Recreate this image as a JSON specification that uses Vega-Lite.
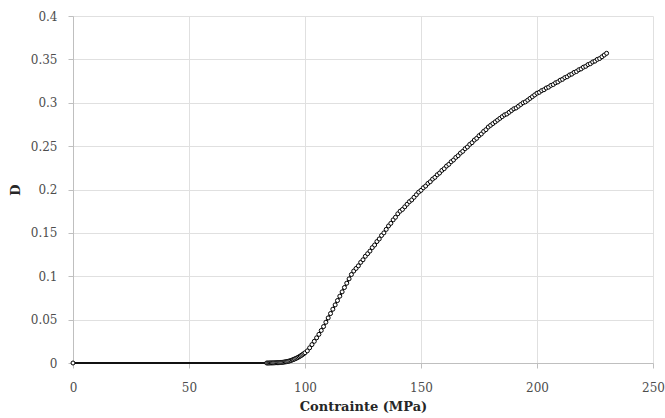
{
  "$schema": "https://vega.github.io/schema/vega-lite/v6.json",
  "autosize": {"type": "none"},
  "width": 580,
  "height": 347,
  "padding": {"left": 73, "top": 16, "right": 12, "bottom": 55},
  "background": "white",
  "config": {
    "view": {"stroke": null},
    "axis": {
      "labelFont": "DejaVu Serif",
      "labelFontSize": 12,
      "labelColor": "#4d4d4d",
      "titleFont": "DejaVu Serif",
      "titleFontSize": 13,
      "titleFontWeight": "bold",
      "titleColor": "#262626",
      "gridColor": "#e0e0e0",
      "gridWidth": 1,
      "domainColor": "#bfbfbf",
      "tickColor": "#bfbfbf",
      "tickSize": 5
    }
  },
  "data": {"values": [
    {"s": 0, "D": 0},
    {"s": 83.5, "D": 0}, {"s": 84, "D": 0}, {"s": 84.5, "D": 0}, {"s": 85, "D": 0.0001},
    {"s": 85.5, "D": 0.0001}, {"s": 86, "D": 0.0001}, {"s": 86.5, "D": 0.0002}, {"s": 87, "D": 0.0002},
    {"s": 87.5, "D": 0.0003}, {"s": 88, "D": 0.0003}, {"s": 88.5, "D": 0.0004}, {"s": 89, "D": 0.0005},
    {"s": 89.5, "D": 0.0006}, {"s": 90, "D": 0.0007}, {"s": 90.5, "D": 0.0009}, {"s": 91, "D": 0.0011},
    {"s": 91.5, "D": 0.0013}, {"s": 92, "D": 0.0015}, {"s": 92.5, "D": 0.0018}, {"s": 93, "D": 0.0021},
    {"s": 93.5, "D": 0.0025}, {"s": 94, "D": 0.003}, {"s": 94.5, "D": 0.0035}, {"s": 95, "D": 0.004},
    {"s": 95.5, "D": 0.0046}, {"s": 96, "D": 0.0052}, {"s": 96.5, "D": 0.0058}, {"s": 97, "D": 0.0065},
    {"s": 97.5, "D": 0.0073}, {"s": 98, "D": 0.0081}, {"s": 98.5, "D": 0.0089}, {"s": 99, "D": 0.0098},
    {"s": 99.5, "D": 0.0108}, {"s": 100, "D": 0.0118},
    {"s": 101, "D": 0.014}, {"s": 102, "D": 0.0175}, {"s": 103, "D": 0.0212}, {"s": 104, "D": 0.025},
    {"s": 105, "D": 0.029}, {"s": 106, "D": 0.033}, {"s": 107, "D": 0.0375}, {"s": 108, "D": 0.042},
    {"s": 109, "D": 0.047}, {"s": 110, "D": 0.052}, {"s": 111, "D": 0.057}, {"s": 112, "D": 0.062},
    {"s": 113, "D": 0.067}, {"s": 114, "D": 0.072}, {"s": 115, "D": 0.077}, {"s": 116, "D": 0.082},
    {"s": 117, "D": 0.087}, {"s": 118, "D": 0.092}, {"s": 119, "D": 0.097}, {"s": 120, "D": 0.102},
    {"s": 121, "D": 0.106}, {"s": 122, "D": 0.109}, {"s": 123, "D": 0.112}, {"s": 124, "D": 0.116},
    {"s": 125, "D": 0.119}, {"s": 126, "D": 0.123}, {"s": 127, "D": 0.126}, {"s": 128, "D": 0.129},
    {"s": 129, "D": 0.133}, {"s": 130, "D": 0.136}, {"s": 131, "D": 0.14}, {"s": 132, "D": 0.143},
    {"s": 133, "D": 0.147}, {"s": 134, "D": 0.15}, {"s": 135, "D": 0.154}, {"s": 136, "D": 0.158},
    {"s": 137, "D": 0.161}, {"s": 138, "D": 0.165}, {"s": 139, "D": 0.168}, {"s": 140, "D": 0.172},
    {"s": 141, "D": 0.175}, {"s": 142, "D": 0.177}, {"s": 143, "D": 0.18}, {"s": 144, "D": 0.183},
    {"s": 145, "D": 0.186}, {"s": 146, "D": 0.188}, {"s": 147, "D": 0.191}, {"s": 148, "D": 0.194},
    {"s": 149, "D": 0.197}, {"s": 150, "D": 0.199}, {"s": 151, "D": 0.202}, {"s": 152, "D": 0.204},
    {"s": 153, "D": 0.207}, {"s": 154, "D": 0.209}, {"s": 155, "D": 0.212}, {"s": 156, "D": 0.214},
    {"s": 157, "D": 0.217}, {"s": 158, "D": 0.219}, {"s": 159, "D": 0.222}, {"s": 160, "D": 0.224},
    {"s": 161, "D": 0.227}, {"s": 162, "D": 0.229}, {"s": 163, "D": 0.232}, {"s": 164, "D": 0.234},
    {"s": 165, "D": 0.237}, {"s": 166, "D": 0.239}, {"s": 167, "D": 0.242}, {"s": 168, "D": 0.244},
    {"s": 169, "D": 0.247}, {"s": 170, "D": 0.249}, {"s": 171, "D": 0.252}, {"s": 172, "D": 0.254},
    {"s": 173, "D": 0.257}, {"s": 174, "D": 0.259}, {"s": 175, "D": 0.262}, {"s": 176, "D": 0.264},
    {"s": 177, "D": 0.267}, {"s": 178, "D": 0.269}, {"s": 179, "D": 0.272}, {"s": 180, "D": 0.274},
    {"s": 181, "D": 0.276}, {"s": 182, "D": 0.278}, {"s": 183, "D": 0.28}, {"s": 184, "D": 0.282},
    {"s": 185, "D": 0.284}, {"s": 186, "D": 0.286}, {"s": 187, "D": 0.287}, {"s": 188, "D": 0.289},
    {"s": 189, "D": 0.291}, {"s": 190, "D": 0.293}, {"s": 191, "D": 0.294}, {"s": 192, "D": 0.296},
    {"s": 193, "D": 0.298}, {"s": 194, "D": 0.3}, {"s": 195, "D": 0.301}, {"s": 196, "D": 0.303},
    {"s": 197, "D": 0.305}, {"s": 198, "D": 0.307}, {"s": 199, "D": 0.309}, {"s": 200, "D": 0.311},
    {"s": 201, "D": 0.312}, {"s": 202, "D": 0.314}, {"s": 203, "D": 0.315}, {"s": 204, "D": 0.317},
    {"s": 205, "D": 0.318}, {"s": 206, "D": 0.32}, {"s": 207, "D": 0.321}, {"s": 208, "D": 0.323},
    {"s": 209, "D": 0.324}, {"s": 210, "D": 0.326}, {"s": 211, "D": 0.327}, {"s": 212, "D": 0.329},
    {"s": 213, "D": 0.33}, {"s": 214, "D": 0.332}, {"s": 215, "D": 0.333}, {"s": 216, "D": 0.335},
    {"s": 217, "D": 0.336}, {"s": 218, "D": 0.338}, {"s": 219, "D": 0.339}, {"s": 220, "D": 0.341},
    {"s": 221, "D": 0.342}, {"s": 222, "D": 0.344}, {"s": 223, "D": 0.345}, {"s": 224, "D": 0.347},
    {"s": 225, "D": 0.348}, {"s": 226, "D": 0.35}, {"s": 227, "D": 0.351}, {"s": 228, "D": 0.353},
    {"s": 229, "D": 0.355}, {"s": 230, "D": 0.357}
  ]},
  "encoding": {
    "x": {
      "field": "s", "type": "quantitative",
      "scale": {"domain": [0, 250], "nice": false, "zero": false},
      "axis": {"values": [0, 50, 100, 150, 200, 250], "title": "Contrainte (MPa)", "labelPadding": 14, "titlePadding": 7, "labelFlush": false}
    },
    "y": {
      "field": "D", "type": "quantitative",
      "scale": {"domain": [0, 0.4], "nice": false},
      "axis": {"values": [0, 0.05, 0.1, 0.15, 0.2, 0.25, 0.3, 0.35, 0.4], "labelExpr": "format(datum.value, '~g')", "title": "D", "labelPadding": 11, "titlePadding": 8, "labelFlush": false}
    }
  },
  "layer": [
    {"mark": {"type": "line", "color": "#111111", "strokeWidth": 2}},
    {"mark": {"type": "point", "shape": "circle", "filled": false, "fill": "white", "fillOpacity": 1, "stroke": "#000000", "strokeWidth": 1, "size": 16, "opacity": 1}}
  ]
}
